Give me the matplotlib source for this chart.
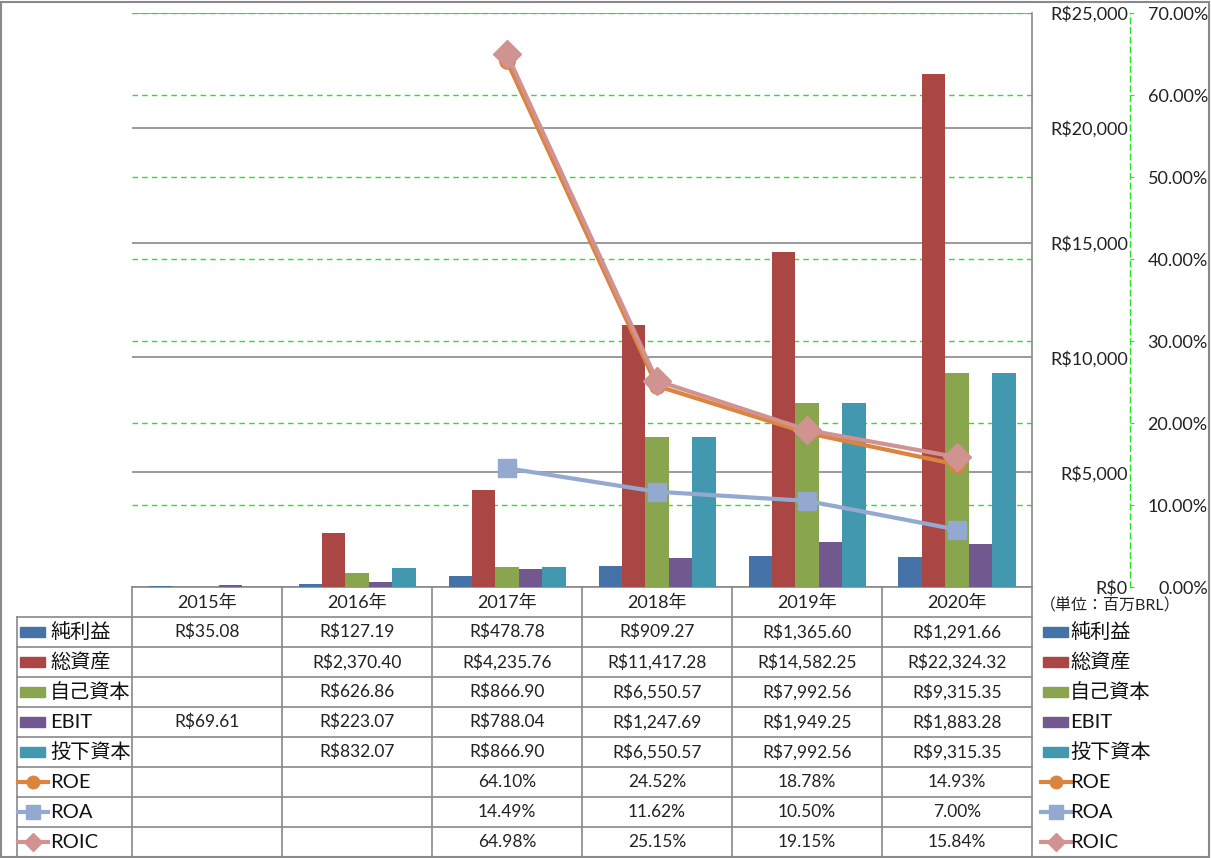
import numpy as np
import matplotlib.pyplot as plt
from matplotlib.patches import Rectangle
from matplotlib.transforms import blended_transform_factory

plt.rcParams['font.family'] = ['Lato', 'Noto Sans CJK JP', 'DejaVu Sans']

years = ['2015年', '2016年', '2017年', '2018年', '2019年', '2020年']

# bars (R$ millions)
net_income = [35.08, 127.19, 478.78, 909.27, 1365.60, 1291.66]
total_assets = [np.nan, 2370.40, 4235.76, 11417.28, 14582.25, 22324.32]
equity = [np.nan, 626.86, 866.90, 6550.57, 7992.56, 9315.35]
ebit = [69.61, 223.07, 788.04, 1247.69, 1949.25, 1883.28]
invested = [np.nan, 832.07, 866.90, 6550.57, 7992.56, 9315.35]

# lines (%)
roe = [np.nan, np.nan, 64.10, 24.52, 18.78, 14.93]
roa = [np.nan, np.nan, 14.49, 11.62, 10.50, 7.00]
roic = [np.nan, np.nan, 64.98, 25.15, 19.15, 15.84]

bar_names = ['純利益', '総資産', '自己資本', 'EBIT', '投下資本']
bar_data = [net_income, total_assets, equity, ebit, invested]
bar_colors = ['#4572A7', '#AA4643', '#89A54E', '#71588F', '#4198AF']

line_names = ['ROE', 'ROA', 'ROIC']
line_data = [roe, roa, roic]
line_colors = ['#DB843D', '#93A9CF', '#D19392']
line_markers = ['o', 's', 'D']
marker_sizes = [11, 13, 14]

grid_gray = '#898989'
green = '#22E622'

W, H = 1211, 858
fig = plt.figure(figsize=(W / 100, H / 100), dpi=100)
L, R, B, T = 132, 1032, 587, 13
ax = fig.add_axes([L / W, 1 - B / H, (R - L) / W, (B - T) / H])

x = np.arange(len(years))
bw = 0.156
for k, (vals, col) in enumerate(zip(bar_data, bar_colors)):
    ax.bar(x + (k - 2) * bw, vals, bw, color=col, zorder=3)

ax.set_xlim(-0.5, 5.5)
ax.set_ylim(0, 25000)
yt = np.arange(0, 25001, 5000)
ax.set_yticks(yt, labels=['R${:,.0f}'.format(v) for v in yt])
ax.set_xticks([])
ax.grid(axis='y', color=grid_gray, lw=1.2, zorder=1)
ax.set_axisbelow(True)
for s in ['left', 'top']:
    ax.spines[s].set_visible(False)
for s in ['right', 'bottom']:
    ax.spines[s].set_color(grid_gray)
    ax.spines[s].set_linewidth(1.2)

ax2 = ax.twinx()
ax2.set_ylim(0, 70)
for s in ['left', 'top', 'bottom']:
    ax2.spines[s].set_visible(False)
ax2.spines['right'].set_position(('axes', (1130 - L) / (R - L)))
ax2.spines['right'].set_color(green)
ax2.spines['right'].set_linestyle((0, (4, 3)))
ax2.spines['right'].set_linewidth(1)
pt = np.arange(0, 71, 10)
ax2.set_yticks(pt, labels=['{:.2f}%'.format(v) for v in pt])
ax2.tick_params(axis='y', length=3, direction='out', color=green, pad=53,
                labelsize=13, labelcolor='#222222')

ax.yaxis.tick_right()
ax.tick_params(axis='y', length=0, pad=69, labelsize=13, labelcolor='#222222')

# secondary gridlines drawn behind the bars
trans = blended_transform_factory(ax.transAxes, ax2.transData)
for p in pt[1:]:
    ax.plot([0, 1], [p, p], transform=trans, color=green, lw=1,
            ls=(0, (4, 3)), zorder=1)

for vals, col, mk, ms in zip(line_data, line_colors, line_markers, marker_sizes):
    ax2.plot(x, vals, color=col, lw=3, marker=mk, markersize=ms,
             markerfacecolor=col, markeredgecolor=col, zorder=3)

ax.set_ylim(0, 25000)

# data table
tab = fig.add_axes([L / W, 1 / H, (R - L) / W, (857 - B) / H])
tab.set_xlim(-0.5, 5.5)
tab.set_ylim(9, 0)
tab.axis('off')
px = 1 / 150
x_left = -0.5 - (L - 17) * px
for xv in np.arange(-0.5, 5.6, 1):
    tab.plot([xv, xv], [0, 9], color=grid_gray, lw=1.2, clip_on=False)
tab.plot([x_left, x_left], [1, 9], color=grid_gray, lw=1.2, clip_on=False)
for r in range(1, 9):
    tab.plot([x_left, 5.5], [r, r], color=grid_gray, lw=1.2, clip_on=False)

for i, yr in enumerate(years):
    tab.text(i, 0.52, yr, ha='center', va='center', fontsize=13, color='#222222')

for r, vals in enumerate(bar_data, start=1):
    for i, v in enumerate(vals):
        if not np.isnan(v):
            tab.text(i, r + 0.5, 'R${:,.2f}'.format(v), ha='center', va='center',
                     fontsize=12.5, color='#222222')
for r, vals in enumerate(line_data, start=6):
    for i, v in enumerate(vals):
        if not np.isnan(v):
            tab.text(i, r + 0.5, '{:.2f}%'.format(v), ha='center', va='center',
                     fontsize=12.5, color='#222222')

names = bar_names + line_names
for base, tx in [(x_left, x_left + 33 * px), (5.5 + 8 * px, 5.5 + 38 * px)]:
    for r, (name, col) in enumerate(zip(bar_names, bar_colors), start=1):
        tab.add_patch(Rectangle((base + 3 * px, r + 0.33), 25 * px, 0.34,
                                color=col, clip_on=False))
    for r, (col, mk, ms) in enumerate(zip(line_colors, line_markers, [9, 10, 9]), start=6):
        tab.plot([base + 1 * px, base + 31 * px], [r + 0.5, r + 0.5], color=col, lw=3,
                 clip_on=False)
        tab.plot([base + 16 * px], [r + 0.5], marker=mk, markersize=ms, color=col,
                 clip_on=False)
    for r, name in enumerate(names, start=1):
        tab.text(tx, r + 0.5, name, ha='left', va='center', fontsize=14.5,
                 color='#111111')

tab.text(5.5 + 8 * px, 0.62, '（単位：百万BRL）', ha='left', va='center',
         fontsize=11.5, color='#222222')

fig.add_artist(Rectangle((1 / W, 1.5 / H), 1208 / W, 855 / H, fill=False,
                         edgecolor=grid_gray, lw=1.5, transform=fig.transFigure))

# right-align both sets of axis labels (after all tick resets)
for a in (ax, ax2):
    for t in a.yaxis.get_major_ticks():
        t.label2.set_horizontalalignment('right')

fig.savefig('out.png', dpi=100)
